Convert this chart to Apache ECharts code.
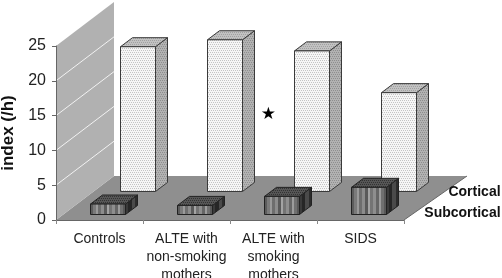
<!DOCTYPE html>
<html><head><meta charset="utf-8">
<style>html,body{margin:0;padding:0;background:#fff}#c{width:502px;height:278px}</style>
<script src="https://cdn.jsdelivr.net/npm/echarts@6/dist/echarts.min.js"></script>
</head><body><div id="c"></div>
<script>
const categories = ['Controls', 'ALTE with\nnon-smoking\nmothers', 'ALTE with\nsmoking\nmothers', 'SIDS'];
const cortical = [20.8, 21.8, 20.2, 14.2];
const subcortical = [1.5, 1.3, 2.6, 3.9];
const rowNames = ['Cortical', 'Subcortical'];
const yTicks = [0, 5, 10, 15, 20, 25];
const starValue = 15.1;

const FONT = '"Liberation Sans", Arial, sans-serif';
function pat(w, h, bg, dot, step) {
  const c = document.createElement('canvas'); c.width = w; c.height = h;
  const g = c.getContext('2d'); g.fillStyle = bg; g.fillRect(0, 0, w, h);
  g.fillStyle = dot;
  for (let y = 0; y < h; y += step) for (let x = (y / step) % 2 ? step / 2 : 0; x < w; x += step) g.fillRect(x, y, 1, 1);
  return { image: c, repeat: 'repeat' };
}
const frontFill = pat(4, 4, '#f6f6f6', '#c4c4c4', 2);
const sideFill = pat(4, 4, '#b2b2b2', '#8e8e8e', 2);
const topFill = pat(4, 4, '#c2c2c2', '#a0a0a0', 2);
const darkTop = pat(4, 4, '#565656', '#333333', 2);

function stripes(shades) {
  const stops = [];
  shades.forEach((s, i) => {
    stops.push({ offset: i / shades.length, color: s });
    stops.push({ offset: (i + 1) / shades.length, color: s });
  });
  return new echarts.graphic.LinearGradient(0, 0, 1, 0, stops);
}
const frontStripes = stripes(['#5c5c5c','#7a7a7a','#9a9a9a','#6e6e6e','#8c8c8c','#5a5a5a','#a4a4a4','#747474','#8e8e8e','#666666','#9c9c9c','#707070','#585858']);
const sideStripes = stripes(['#3a3a3a','#262626','#4a4a4a','#2c2c2c']);

// Oblique projection, as fractions of one category band / in value units.
const DEPTH_X = 2 / 3, DEPTH_V = 6.32;
const DEPTH_X_RIGHT = 63 / 87;
const BAR_OFFSET = 26 / 87, BAR_W = 35 / 87, SIDE_X = 12 / 87, SIDE_V = 1.3;
const ROW_BACK = 0.66, ROW_FRONT = 0.136;

function renderBar(row, front, side, top, lineCol) {
  return function (params, api) {
    const band = api.size([1, 0])[0];
    const unit = api.size([0, 1])[1];
    const base = api.coord([api.value(0), 0]);
    const dx0 = band * DEPTH_X * row, dy0 = unit * DEPTH_V * row;
    const x0 = Math.round(base[0] - band / 2 + dx0 + band * BAR_OFFSET) + 0.5;
    const y0 = Math.round(base[1] - dy0) + 0.5;
    const w = band * BAR_W, h = unit * api.value(1);
    const sx = band * SIDE_X, sy = unit * SIDE_V;
    const line = { stroke: lineCol, lineWidth: 1 };
    return { type: 'group', children: [
      { type: 'polygon', shape: { points: [[x0 + w, y0], [x0 + w + sx, y0 - sy], [x0 + w + sx, y0 - h - sy], [x0 + w, y0 - h]] }, style: Object.assign({ fill: side }, line) },
      { type: 'polygon', shape: { points: [[x0, y0 - h], [x0 + w, y0 - h], [x0 + w + sx, y0 - h - sy], [x0 + sx, y0 - h - sy]] }, style: Object.assign({ fill: top }, line) },
      { type: 'rect', shape: { x: x0, y: y0 - h, width: w, height: h }, style: Object.assign({ fill: front }, line) }
    ] };
  };
}

function renderStage(params, api) {
  const a = api.coord([0, 0]), band = api.size([1, 0])[0], unit = api.size([0, 1])[1];
  const x0 = a[0] - band / 2, y0 = a[1], x1 = x0 + band * categories.length;
  const dx = band * DEPTH_X, dxr = band * DEPTH_X_RIGHT, dy = unit * DEPTH_V;
  const h = unit * 25;
  const kids = [
    { type: 'polygon', shape: { points: [[x0, y0], [x1, y0], [x1 + dxr, y0 - dy], [x0 + dx, y0 - dy]] }, style: { fill: '#8f8f8f' } },
    { type: 'polygon', shape: { points: [[x0, y0], [x0, y0 - h], [x0 + dx, y0 - h - dy], [x0 + dx, y0 - dy]] }, style: { fill: '#b1b1b1' } },
    { type: 'line', shape: { x1: x1, y1: y0, x2: x1 + dxr, y2: y0 - dy }, style: { stroke: '#666', lineWidth: 1 } }
  ];
  yTicks.slice(1, -1).forEach(t => {
    const y = y0 - unit * t;
    kids.push({ type: 'line', shape: { x1: x0, y1: y, x2: x0 + dx, y2: y - dy }, style: { stroke: '#f2f2f2', lineWidth: 1 } });
  });
  return { type: 'group', children: kids };
}

function renderRowLabel(params, api) {
  const a = api.coord([categories.length - 1, 0]), band = api.size([1, 0])[0], unit = api.size([0, 1])[1];
  const i = params.dataIndex;
  const x = a[0] + band / 2 + band * 1.11;
  const y = a[1] - unit * (i === 0 ? 4 : 1);
  return { type: 'text', style: { text: rowNames[i], x: x, y: y, textAlign: 'right', textVerticalAlign: 'middle', font: 'bold 14px ' + FONT, fill: '#111' } };
}

function renderStar(params, api) {
  const p = api.coord([api.value(0), api.value(1)]), band = api.size([1, 0])[0];
  return { type: 'text', style: { text: '★', x: p[0] - band * 0.06, y: p[1], textAlign: 'center', textVerticalAlign: 'middle', font: '17px "DejaVu Sans"', fill: '#000' } };
}

const chart = echarts.init(document.getElementById('c'), null, { renderer: 'canvas' });
chart.setOption({
  animation: false,
  backgroundColor: '#fff',
  grid: { left: 56, right: 98, top: 46, bottom: 58, outerBoundsMode: 'none', containLabel: false },
  xAxis: {
    type: 'category', data: categories, z: 5,
    axisLine: { lineStyle: { color: '#666' } },
    axisTick: { show: true, length: 4, alignWithLabel: false, lineStyle: { color: '#888' } },
    axisLabel: { interval: 0, margin: 10, fontFamily: FONT, fontSize: 14, lineHeight: 18, color: '#222', hideOverlap: false },
    splitLine: { show: false }
  },
  yAxis: {
    type: 'value', min: 0, max: 25, interval: 5, z: 5,
    name: 'index (/h)', nameLocation: 'middle', nameGap: 35, nameRotate: 90,
    nameTextStyle: { fontFamily: FONT, fontWeight: 'bold', fontSize: 17, color: '#111' },
    axisLine: { show: true, lineStyle: { color: '#666' } },
    axisTick: { show: true, length: 4, lineStyle: { color: '#666' } },
    axisLabel: { margin: 10, fontFamily: FONT, fontSize: 16, color: '#222' },
    splitLine: { show: false }
  },
  series: [
    { type: 'custom', name: 'stage', z: 1, silent: true, data: [[0, 0]], renderItem: renderStage, clip: false },
    { type: 'custom', name: 'Cortical', z: 2, data: cortical.map((v, i) => [i, v]), renderItem: renderBar(ROW_BACK, frontFill, sideFill, topFill, '#3a3a3a'), clip: false },
    { type: 'custom', name: 'Subcortical', z: 3, data: subcortical.map((v, i) => [i, v]), renderItem: renderBar(ROW_FRONT, frontStripes, sideStripes, darkTop, '#222'), clip: false },
    { type: 'custom', name: 'rows', z: 4, data: rowNames.map((n, i) => [i, 0]), renderItem: renderRowLabel, clip: false },
    { type: 'custom', name: 'star', z: 4, data: [[2, starValue]], renderItem: renderStar, clip: false }
  ]
});
</script></body></html>
